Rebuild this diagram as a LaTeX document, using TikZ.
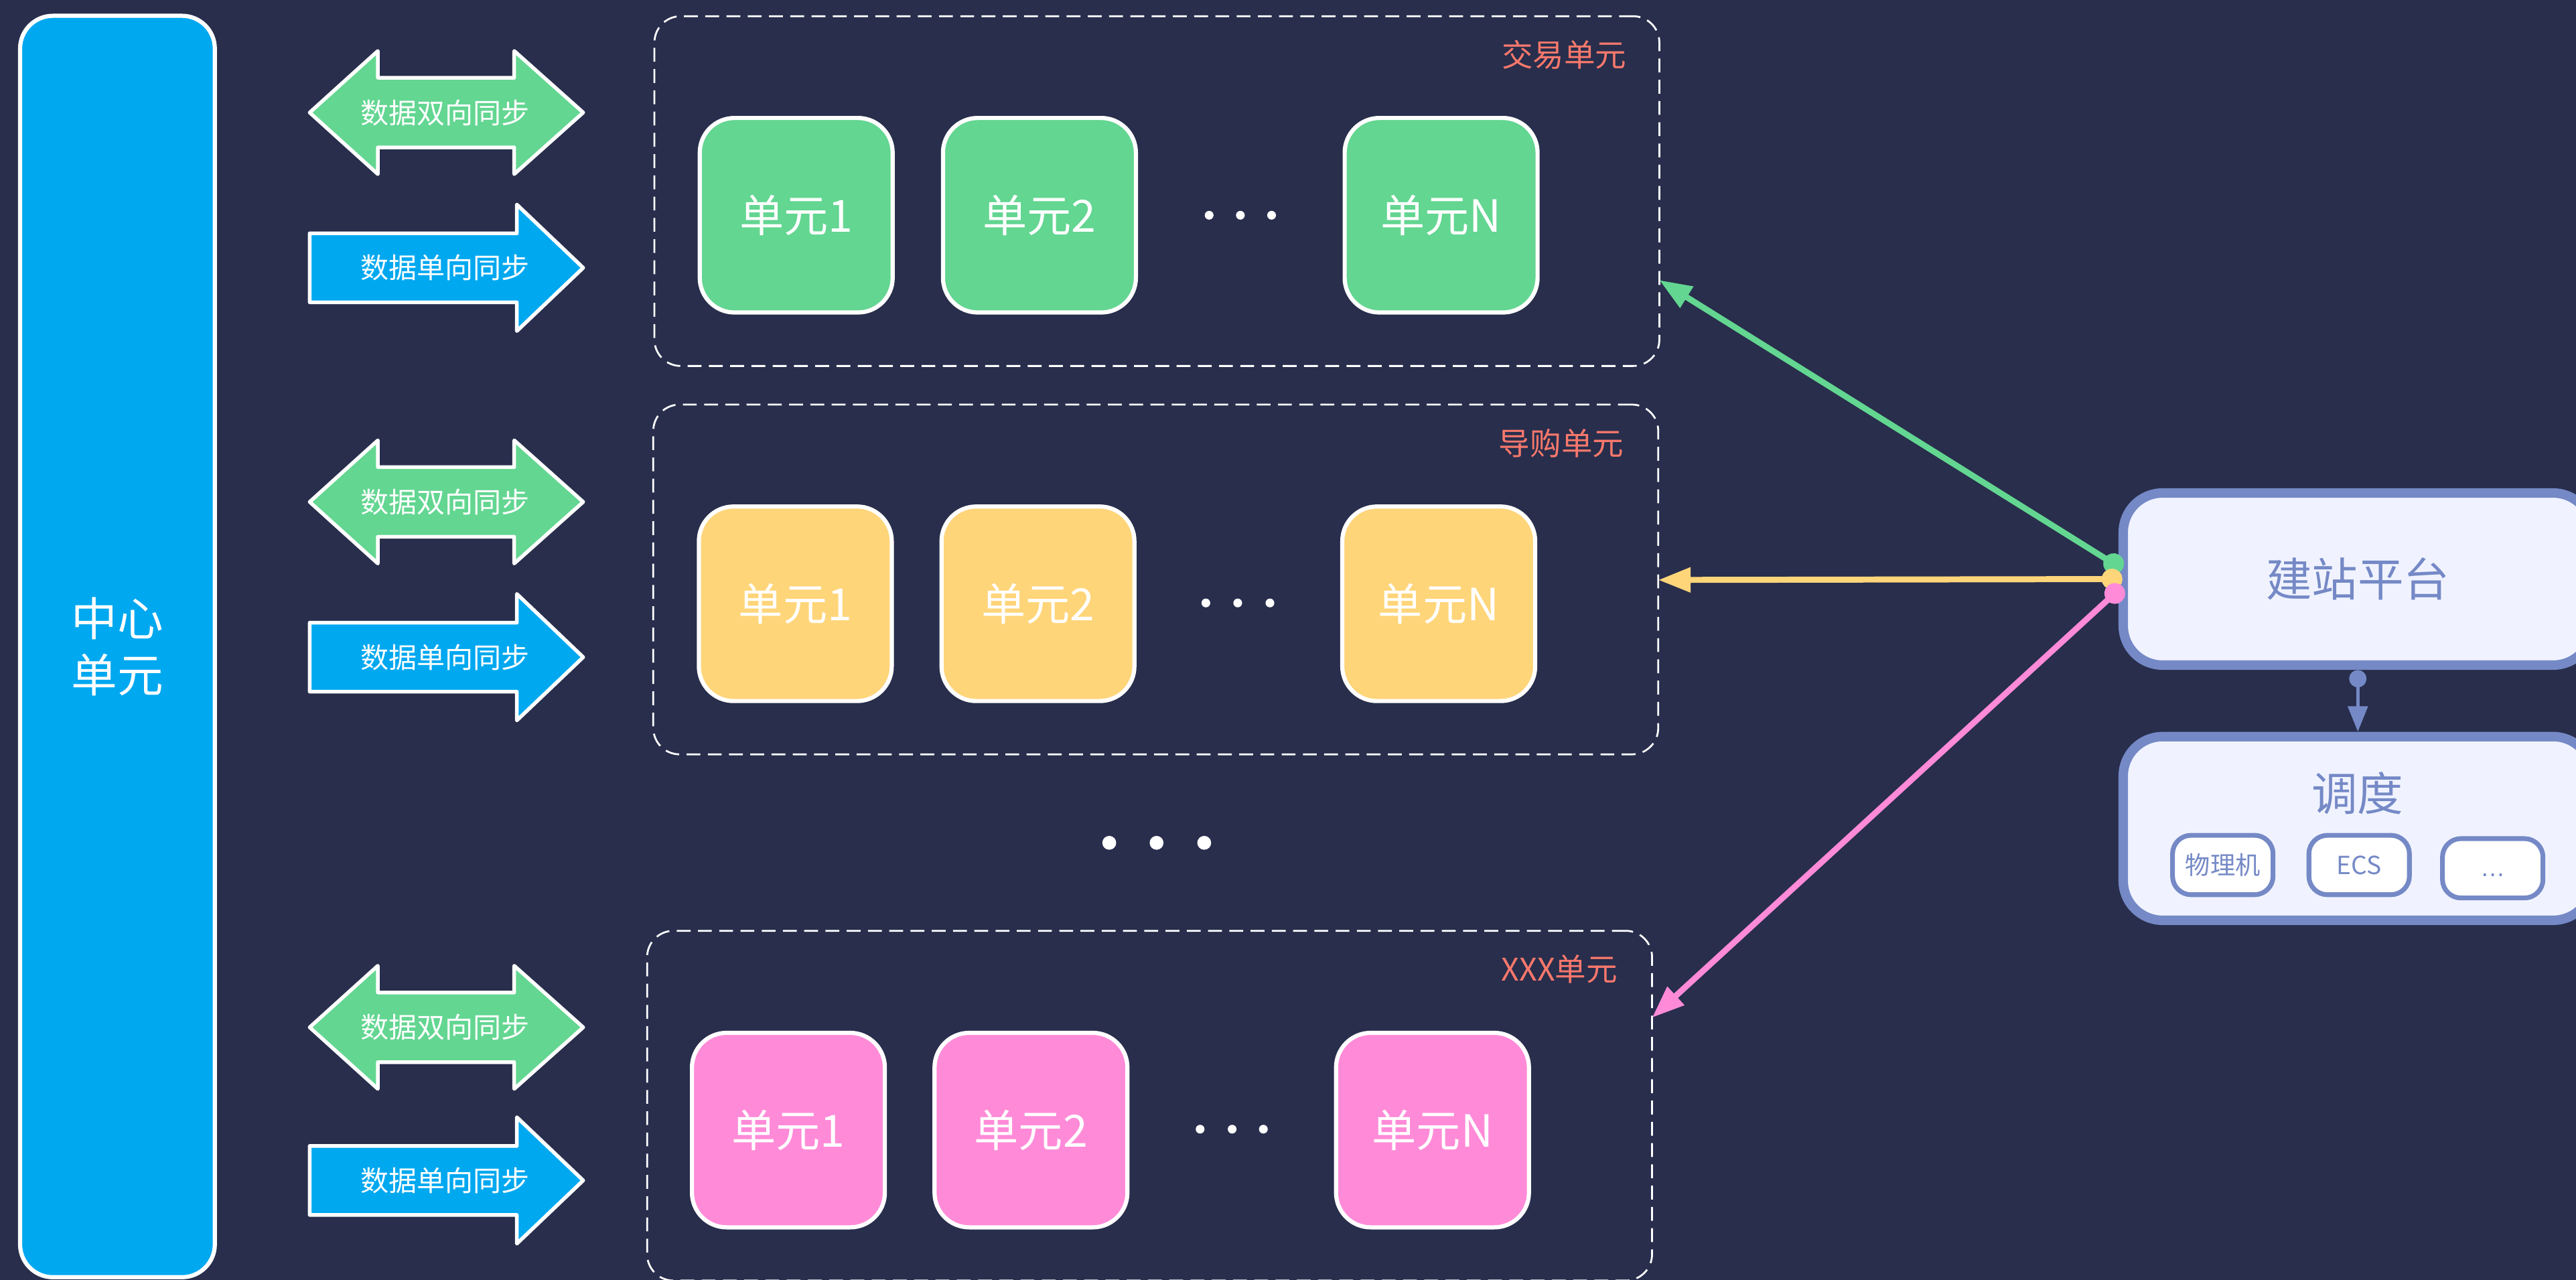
\documentclass[tikz,border=0pt]{standalone}
\usepackage{fontspec}
\newfontfamily\cjk{Noto Sans CJK SC}
\newfontfamily\latn{Liberation Sans}
\usetikzlibrary{arrows.meta,calc}
\definecolor{bgc}{RGB}{40,46,76}
\definecolor{cblue}{RGB}{0,168,240}
\definecolor{cgreen}{RGB}{99,214,145}
\definecolor{cyellow}{RGB}{255,213,122}
\definecolor{cpink}{RGB}{255,139,216}
\definecolor{cslate}{RGB}{117,137,198}
\definecolor{clight}{RGB}{240,243,255}
\definecolor{csalmon}{RGB}{248,120,108}
\newcommand\twowaysync[1]{\draw[syncshape, fill=cgreen] (188.5,#1) -- (230,{#1-37.5}) -- (230,{#1-21.2}) -- (313,{#1-21.2}) -- (313,{#1-37.5}) -- (355,#1) -- (313,{#1+37.5}) -- (313,{#1+21.2}) -- (230,{#1+21.2}) -- (230,{#1+37.5}) -- cycle;}
\newcommand\onewaysync[1]{\draw[syncshape, fill=cblue] (188.5,{#1-21}) -- (314.6,{#1-21}) -- (314.6,{#1-38.5}) -- (355,#1) -- (314.6,{#1+38.5}) -- (314.6,{#1+21}) -- (188.5,{#1+21}) -- cycle;}
\begin{document}
\begin{tikzpicture}[x=0.025cm,y=-0.025cm,
  every node/.style={font=\cjk, inner sep=0pt, outer sep=0pt},
  unitbox/.style={draw=white, line width=1.8pt, rounded corners=15pt, minimum width=83.5pt, minimum height=84.2pt, text=white, font=\cjk\fontsize{19.2}{23}\selectfont},
  greenunit/.style={unitbox, fill=cgreen},
  yellowunit/.style={unitbox, fill=cyellow},
  pinkunit/.style={unitbox, fill=cpink},
  cluster/.style={draw=white, line width=0.8pt, dash pattern=on 6pt off 3.2pt, rounded corners=11.4pt, minimum width=435pt, minimum height=151.4pt},
  lbl/.style={text=csalmon, font=\cjk\fontsize{13.5}{16}\selectfont, anchor=east},
  synctext/.style={text=white, font=\cjk\fontsize{12.2}{14}\selectfont},
  syncshape/.style={draw=white, line width=1.6pt, line join=round},
  platbox/.style={draw=cslate, fill=clight, line width=4.1pt, rounded corners=17pt, minimum width=203.1pt, text=cslate, font=\cjk\fontsize{19.9}{24}\selectfont},
  smallbox/.style={draw=cslate, fill=white, line width=2.06pt, rounded corners=8pt, minimum width=43.5pt, minimum height=25.7pt, text=cslate, font=\cjk\fontsize{10.8}{13}\selectfont},
  link/.style={line width=2.6pt},
]
\fill[bgc] (0,0) rectangle (1568,779.1);
\clip (0,0) rectangle (1568,779.1);

% centre unit
\node[draw=white, fill=cblue, line width=1.8pt, rounded corners=14.2pt, minimum width=84.3pt, minimum height=546pt, text=white, align=center, font=\cjk\fontsize{19.9}{24.2}\selectfont] (zx) at (71.5,393.5) {中心\\单元};

% sync arrows
\twowaysync{68.5}
\onewaysync{163}
\twowaysync{305.5}
\onewaysync{400}
\twowaysync{625.3}
\onewaysync{718.5}
\node[synctext] (a1) at (271,68.5) {数据双向同步};
\node[synctext] (b1) at (271,163) {数据单向同步};
\node[synctext] (a2) at (271,305.5) {数据双向同步};
\node[synctext] (b2) at (271,400) {数据单向同步};
\node[synctext] (a3) at (271,625.3) {数据双向同步};
\node[synctext] (b3) at (271,718.5) {数据单向同步};

% clusters
\node[cluster] (c1) at (704.2,116.3) {};
\node[cluster] (c2) at (703.5,352.7) {};
\node[cluster] (c3) at (699.75,673) {};
\node[lbl] (l1) at ($(c1.north east)+(-20,23.6)$) {交易单元};
\node[lbl] (l2) at ($(c2.north east)+(-21,23.6)$) {导购单元};
\node[lbl] (l3) at ($(c3.north east)+(-21,23.5)$) {XXX单元};

% units row 1
\node[greenunit] (u11) at (484.65,131) {单元1};
\node[greenunit] (u12) at (632.7,131) {单元2};
\node[greenunit] (u1n) at (877.2,131) {单元N};
\foreach \x in {736,755,774} \fill[white] (\x,131) circle (1.9pt);
% units row 2
\node[yellowunit] (u21) at (484.1,367.5) {单元1};
\node[yellowunit] (u22) at (631.8,367.5) {单元2};
\node[yellowunit] (u2n) at (875.75,367.5) {单元N};
\foreach \x in {734,753.4,773} \fill[white] (\x,367) circle (1.9pt);
% units row 3
\node[pinkunit] (u31) at (479.9,687.85) {单元1};
\node[pinkunit] (u32) at (627.55,687.85) {单元2};
\node[pinkunit] (u3n) at (871.95,687.85) {单元N};
\foreach \x in {730.5,750,769} \fill[white] (\x,687.3) circle (1.9pt);

% big dots between clusters
\foreach \x in {675.2,704,733} \fill[white] (\x,513) circle (3pt);

% platform
\node[platbox, minimum height=74.5pt] (jz) at (1435.2,352.45) {建站平台};
\node[platbox, minimum height=79.5pt] (dd) at (1435.2,504.25) {};
\node[text=cslate, font=\cjk\fontsize{19.9}{24}\selectfont] (ddt) at (1435,482.7) {调度};
\node[smallbox] (s1) at (1353,526.5) {物理机};
\node[smallbox] (s2) at (1436,526.5) {ECS};
\node[smallbox, text height=8pt, text depth=1pt, font=\latn\fontsize{10.8}{13}\selectfont] (s3) at (1517.3,528.5) {…};

% connectors
\draw[cslate, line width=1.4pt, {Circle[length=7.5pt]}-{Triangle[length=11pt,width=8.5pt]}] ($(jz.south)+(0,3)$) -- ($(dd.north)+(0,-3)$);
\draw[link, cgreen, {Circle[length=9pt]}-{Triangle[length=14pt,width=10.3pt]}] ($(jz.west)+(-0.5,-6)$) -- ($(c1.east)+(0,54.2)$);
\draw[link, cyellow, {Circle[length=9pt]}-{Triangle[length=14pt,width=10.3pt]}] ($(jz.west)+(-0.5,0)$) -- ($(c2.east)+(0,0.3)$);
\draw[link, cpink, {Circle[length=9pt]}-{Triangle[length=14pt,width=10.3pt]}] ($(jz.west)+(-0.5,4.5)$) -- ($(c3.east)+(0,-53.6)$);
\end{tikzpicture}
\end{document}
